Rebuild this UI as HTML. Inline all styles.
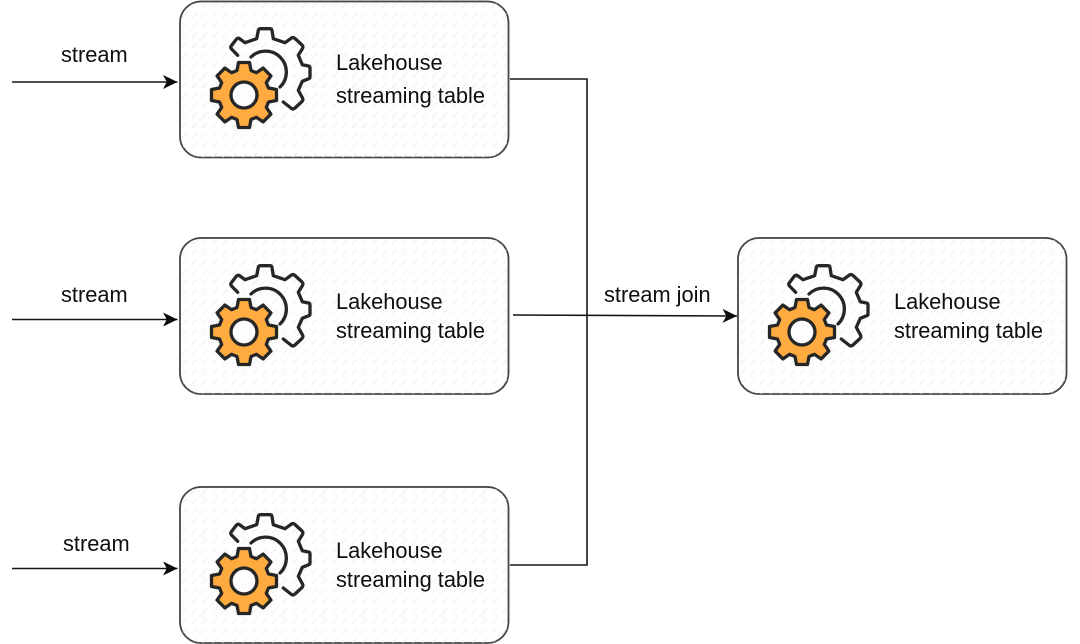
<!DOCTYPE html>
<html>
<head>
<meta charset="utf-8">
<style>
html,body{margin:0;padding:0;background:#fff;width:1080px;height:644px;overflow:hidden}
svg{display:block}
text{font-family:"Liberation Sans",sans-serif;font-size:21.8px;fill:#0e0e0e}
</style>
</head>
<body>
<svg width="1080" height="644" viewBox="0 0 1080 644" xmlns="http://www.w3.org/2000/svg">
<defs>
<pattern id="h" width="10" height="10" patternUnits="userSpaceOnUse">
<path d="M2 8l5-5" stroke="#f0f0f0" stroke-width="1" fill="none"/>
</pattern>
<g id="gears">
<g fill="none" stroke="#262626" stroke-width="3.300" stroke-linecap="round" stroke-linejoin="round">
<path d="M237.700 55.300L231.500 49Q230 47 231.500 45.500L236.500 39Q238 37.500 240 39L245 42.700L256.700 38.700L258.300 30.500Q258.500 28.700 260.500 28.700H270Q271.700 28.700 272 30.500L273.300 38.700L285 42.700L291.500 38Q293.300 37 295 38.500L302 45Q303.500 46.500 302.500 48.500L298.300 55.300L302.300 64.700L308.500 66Q310 66.300 310 68V77Q310 78.500 308.500 78.800L302.300 81.300L298.300 90.300L302.500 98Q303.500 100 302 101.500L295 108Q293.300 109.500 291.500 108.500L283.300 102"/>
<path d="M251 57A20.500 20.500 0 1 1 280 87"/>
</g>
<g transform="translate(244 95)">
<path fill="#ffab40" stroke="#262626" stroke-width="3.300" stroke-linejoin="round" d="M-7-24.500L-5.500-32.500H5.500L7-24.500L12.400-22.300L19.100-26.900L26.900-19.100L22.300-12.400L24.500-7L32.500-5.500V5.500L24.500 7L22.300 12.400L26.900 19.100L19.100 26.900L12.400 22.300L7 24.500L5.500 32.500H-5.500L-7 24.500L-12.400 22.300L-19.100 26.900L-26.900 19.100L-22.300 12.400L-24.500 7L-32.500 5.500V-5.500L-24.500-7L-22.300-12.400L-26.900-19.100L-19.100-26.900L-12.400-22.300Z"/>
<circle r="13" fill="#fdfdfd" stroke="#262626" stroke-width="3.300"/>
</g>
</g>
<g id="box">
<rect x="180" y="1.500" width="328.500" height="156" rx="21" fill="#fefefe" stroke="#45484b" stroke-width="1.800"/>
<rect x="180" y="1.500" width="328.500" height="156" rx="21" fill="url(#h)"/>
<rect x="179.800" y="1" width="329" height="156.500" rx="22" fill="none" stroke="#45484b" stroke-width="1" opacity=".55"/>
</g>
<marker id="a" markerUnits="userSpaceOnUse" markerWidth="16" markerHeight="16" refX="14.500" refY="8" orient="auto">
<path d="M0 1L14.500 8L0 15L3.800 8Z" fill="#0c0c0c"/>
</marker>
</defs>

<use href="#box"/>
<use href="#box" y="236.500"/>
<use href="#box" y="485.500"/>
<use href="#box" x="558" y="236.500"/>

<use href="#gears"/>
<use href="#gears" y="237"/>
<use href="#gears" y="486"/>
<use href="#gears" x="558" y="237"/>

<g fill="none" stroke="#161616" stroke-width="1.600">
<path d="M510 79H587V565H510"/>
<path d="M12 82H177.500" marker-end="url(#a)"/>
<path d="M12 319.500H177.500" marker-end="url(#a)"/>
<path d="M12 568.500H177.500" marker-end="url(#a)"/>
<path d="M513 315L737 316" marker-end="url(#a)"/>
</g>

<text x="61" y="62">stream</text>
<text x="61" y="302">stream</text>
<text x="63" y="551">stream</text>
<text x="604" y="302">stream join</text>

<text x="336" y="70">Lakehouse</text>
<text x="336" y="103">streaming table</text>
<text x="336" y="309">Lakehouse</text>
<text x="336" y="338">streaming table</text>
<text x="336" y="558">Lakehouse</text>
<text x="336" y="587">streaming table</text>
<text x="894" y="309">Lakehouse</text>
<text x="894" y="338">streaming table</text>
</svg>
</body>
</html>
